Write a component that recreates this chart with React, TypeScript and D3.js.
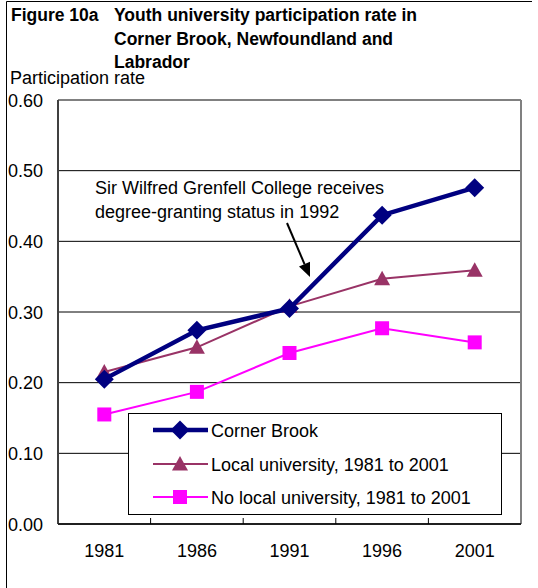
import React from "react";
import * as d3 from "d3";

const years = ["1981", "1986", "1991", "1996", "2001"];
const cornerBrook = [0.205, 0.274, 0.305, 0.437, 0.476];
const localUniv = [0.215, 0.25, 0.308, 0.347, 0.359];
const noLocalUniv = [0.155, 0.187, 0.242, 0.277, 0.257];
const yTicks = [0, 0.1, 0.2, 0.3, 0.4, 0.5, 0.6];

const W = 538, H = 588;
const plot = { left: 58, right: 521, top: 100, bottom: 524 };
const font = "Arial, 'Liberation Sans', sans-serif";

export default function App() {
  const x = d3.scaleBand<string>().domain(years).range([plot.left, plot.right]);
  const y = d3.scaleLinear().domain([0, 0.6]).range([plot.bottom, plot.top]);
  const cx = (d: string) => (x(d) as number) + x.bandwidth() / 2;
  const line = d3.line<number>().x((_, i) => cx(years[i])).y((v) => y(v));

  const diamond = (px: number, py: number, r: number) =>
    `M${px},${py - r}L${px + r},${py}L${px},${py + r}L${px - r},${py}Z`;
  const triangle = (px: number, py: number, r: number) =>
    `M${px},${py - r}L${px + r},${py + r * 0.8}L${px - r},${py + r * 0.8}Z`;

  const series = [
    { name: "Corner Brook", vals: cornerBrook, color: "#000080", w: 4.5, shape: "diamond" },
    { name: "Local university, 1981 to 2001", vals: localUniv, color: "#993366", w: 2, shape: "triangle" },
    { name: "No local university, 1981 to 2001", vals: noLocalUniv, color: "#FF00FF", w: 2, shape: "square" },
  ];

  const marker = (shape: string, px: number, py: number, color: string, key: any) => {
    if (shape === "diamond") return <path key={key} d={diamond(px, py, 9.5)} fill={color} />;
    if (shape === "triangle") return <path key={key} d={triangle(px, py, 8)} fill={color} />;
    return <rect key={key} x={px - 7} y={py - 7} width={14} height={14} fill={color} />;
  };

  const legend = { x: 128, y: 413, w: 373, h: 101 };
  const legendRows = [430, 464, 497];

  // annotation arrow
  const a0 = [287, 223], a1 = [310, 277];
  const ang = Math.atan2(a1[1] - a0[1], a1[0] - a0[0]);
  const hl = 14, hw = 6;
  const bx = a1[0] - hl * Math.cos(ang), by = a1[1] - hl * Math.sin(ang);
  const head = `M${a1[0]},${a1[1]}L${bx + hw * Math.sin(ang)},${by - hw * Math.cos(ang)}L${bx - hw * Math.sin(ang)},${by + hw * Math.cos(ang)}Z`;

  return (
    <svg width={W} height={H} style={{ position: "absolute", left: 0, top: 0, background: "#fff" }} fontFamily={font}>
      <rect x={0} y={0} width={W} height={H} fill="#fff" />
      {/* outer border */}
      <line x1={6.5} y1={1.5} x2={532} y2={1.5} stroke="#000" strokeWidth={1} />
      <line x1={6.5} y1={1.5} x2={6.5} y2={H} stroke="#000" strokeWidth={1} />

      {/* title */}
      <text x={11} y={21} fontSize={17.5} fontWeight="bold">Figure 10a</text>
      <text x={114} y={21} fontSize={17.5} fontWeight="bold">Youth university participation rate in</text>
      <text x={114} y={45} fontSize={17.5} fontWeight="bold">Corner Brook, Newfoundland and</text>
      <text x={114} y={68} fontSize={17.5} fontWeight="bold">Labrador</text>
      <text x={10} y={84} fontSize={18}>Participation rate</text>

      {/* gridlines */}
      {yTicks.filter((t) => t > 0 && t < 0.6).map((t) => (
        <line key={t} x1={plot.left} x2={plot.right} y1={y(t)} y2={y(t)} stroke="#000" strokeWidth={1} />
      ))}
      {/* frame */}
      <line x1={plot.left} x2={plot.right} y1={plot.top} y2={plot.top} stroke="#808080" strokeWidth={2} />
      <line x1={plot.right} x2={plot.right} y1={plot.top} y2={plot.bottom} stroke="#808080" strokeWidth={2} />
      <line x1={plot.left} x2={plot.left} y1={plot.top} y2={plot.bottom} stroke="#404040" strokeWidth={2} />
      <line x1={plot.left} x2={plot.right} y1={plot.bottom} y2={plot.bottom} stroke="#202020" strokeWidth={2} />
      {/* x ticks */}
      {years.slice(1).map((yr) => (
        <line key={yr} x1={x(yr)} x2={x(yr)} y1={plot.bottom} y2={plot.bottom - 6} stroke="#000" strokeWidth={1} />
      ))}

      {/* y labels */}
      {yTicks.map((t) => (
        <text key={t} x={8} y={y(t) + 6.5} fontSize={18}>{t.toFixed(2)}</text>
      ))}
      {/* x labels */}
      {years.map((yr) => (
        <text key={yr} x={cx(yr)} y={557} fontSize={18} textAnchor="middle">{yr}</text>
      ))}

      {/* series (draw bottom first) */}
      {[...series].reverse().map((s) => (
        <g key={s.name}>
          <path d={line(s.vals) as string} fill="none" stroke={s.color} strokeWidth={s.w} />
          {s.vals.map((v, i) => marker(s.shape, cx(years[i]), y(v), s.color, i))}
        </g>
      ))}

      {/* annotation */}
      <text x={95} y={194} fontSize={18}>Sir Wilfred Grenfell College receives</text>
      <text x={95} y={218} fontSize={18}>degree-granting status in 1992</text>
      <line x1={a0[0]} y1={a0[1]} x2={bx} y2={by} stroke="#000" strokeWidth={2} />
      <path d={head} fill="#000" />

      {/* legend */}
      <rect x={legend.x + 0.5} y={legend.y + 0.5} width={legend.w} height={legend.h} fill="#fff" stroke="#000" strokeWidth={1} />
      {series.map((s, i) => (
        <g key={s.name}>
          <line x1={153} x2={208} y1={legendRows[i]} y2={legendRows[i]} stroke={s.color} strokeWidth={s.w} />
          {marker(s.shape, 180, legendRows[i], s.color, "m")}
          <text x={211} y={legendRows[i] + 6.5} fontSize={18}>{s.name}</text>
        </g>
      ))}
    </svg>
  );
}
